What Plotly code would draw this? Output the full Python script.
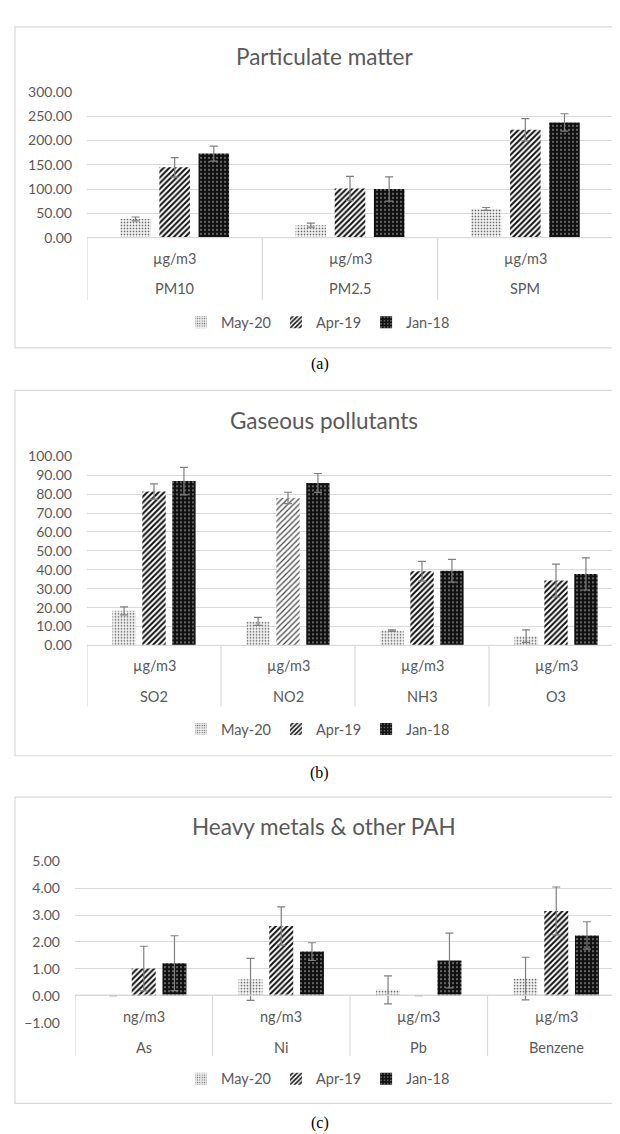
import plotly.graph_objects as go

# ---------------- data ----------------
series = ["May-20", "Apr-19", "Jan-18"]

pm_names = ["PM10", "PM2.5", "SPM"]
pm_units = ["µg/m3", "µg/m3", "µg/m3"]
pm_may20 = [38.5, 25.7, 59.0]
pm_apr19 = [144.6, 101.0, 222.0]
pm_jan18 = [173.0, 100.0, 237.0]
pm_may20_err = [4.0, 4.0, 3.0]
pm_apr19_err = [20.0, 25.0, 23.0]
pm_jan18_err = [15.5, 25.0, 18.0]

gas_names = ["SO2", "NO2", "NH3", "O3"]
gas_units = ["µg/m3", "µg/m3", "µg/m3", "µg/m3"]
gas_may20 = [18.3, 12.7, 7.8, 4.9]
gas_apr19 = [81.4, 78.0, 39.2, 34.3]
gas_jan18 = [86.9, 85.9, 39.5, 37.8]
gas_may20_err = [2.1, 2.1, 0.4, 3.3]
gas_apr19_err = [4.0, 3.0, 5.2, 8.7]
gas_jan18_err = [7.3, 5.0, 6.0, 8.5]

hm_names = ["As", "Ni", "Pb", "Benzene"]
hm_units = ["ng/m3", "ng/m3", "µg/m3", "µg/m3"]
hm_may20 = [0.0, 0.61, 0.22, 0.64]
hm_apr19 = [1.01, 2.59, 0.0, 3.15]
hm_jan18 = [1.21, 1.64, 1.31, 2.24]
hm_may20_err = [0.0, 0.78, 0.52, 0.79]
hm_apr19_err = [0.83, 0.71, 0.0, 0.89]
hm_jan18_err = [1.02, 0.33, 1.02, 0.51]

titles = ["Particulate matter", "Gaseous pollutants", "Heavy metals & other PAH"]
captions = ["(a)", "(b)", "(c)"]

# ---------------- styling ----------------
W, H = 620, 1134
FONT = "Lato"
TXT = "#595959"
GRID = "#d9d9d9"
ERR = "#7f7f7f"


def py(p):  # pixel y -> paper y
    return 1 - p / H


def px(p):
    return p / W


panels = [
    dict(names=pm_names, units=pm_units,
         vals=[pm_may20, pm_apr19, pm_jan18],
         errs=[pm_may20_err, pm_apr19_err, pm_jan18_err],
         xdom=[79, 605], ydom=[224, 76], yrange=[0, 300], dtick=50,
         axis_px=224, div_bottom=287, unit_y=245, name_y=276,
         legend_y=310, title_y=40, caption_y=352, box=[10, 336]),
    dict(names=gas_names, units=gas_units,
         vals=[gas_may20, gas_apr19, gas_jan18],
         errs=[gas_may20_err, gas_apr19_err, gas_jan18_err],
         xdom=[79, 615], ydom=[638, 446], yrange=[0, 100], dtick=10,
         axis_px=638, div_bottom=700, unit_y=658, name_y=690,
         legend_y=723, title_y=410, caption_y=768, box=[379, 750]),
    dict(names=hm_names, units=hm_units,
         vals=[hm_may20, hm_apr19, hm_jan18],
         errs=[hm_may20_err, hm_apr19_err, hm_jan18_err],
         xdom=[67, 617], ydom=[1021, 857], yrange=[-1, 5], dtick=1,
         axis_px=993, div_bottom=1055, unit_y=1015, name_y=1046,
         legend_y=1078, title_y=822, caption_y=1123, box=[792, 1103]),
]


def pattern_for(si, n, panel_idx):
    if si == 0:
        return dict(color="#f4f4f4",
                    pattern=dict(shape=".", size=3, solidity=0.25,
                                 fgcolor="#5a5a5a", bgcolor="#f4f4f4",
                                 fillmode="replace"))
    if si == 1:
        sol = [0.5] * n
        fg = ["#111111"] * n
        if panel_idx == 1:
            sol[1] = 0.3
            fg[1] = "#444444"
        return dict(color="white",
                    pattern=dict(shape="/", size=4, solidity=sol,
                                 fgcolor=fg, bgcolor="white",
                                 fillmode="replace"))
    return dict(color="#111111",
                pattern=dict(shape=".", size=4, solidity=0.08,
                             fgcolor="white", bgcolor="#111111",
                             fillmode="replace"))


fig = go.Figure()
shapes = []
annotations = []
layout = {}

for pi, p in enumerate(panels):
    sfx = "" if pi == 0 else str(pi + 1)
    xa, ya = "x" + sfx, "y" + sfx
    lg = "legend" + sfx
    n = len(p["names"])
    for si, s in enumerate(series):
        fig.add_trace(go.Bar(
            x=p["names"], y=p["vals"][si], name=s,
            xaxis=xa, yaxis=ya, legend=lg,
            marker=dict(line=dict(width=0), **pattern_for(si, n, pi)),
            error_y=dict(type="data", array=p["errs"][si], visible=True,
                         color=ERR, thickness=1.2, width=4),
            hoverinfo="skip",
        ))

    layout["xaxis" + sfx] = dict(
        domain=[px(p["xdom"][0]), px(p["xdom"][1])], anchor=ya,
        type="category", showticklabels=False, showgrid=False,
        ticks="", zeroline=False, showline=False,
        categoryorder="array", categoryarray=p["names"],
        range=[-0.5, n - 0.5], fixedrange=True)
    layout["yaxis" + sfx] = dict(
        domain=[py(p["ydom"][0]), py(p["ydom"][1])], anchor=xa,
        range=p["yrange"], dtick=p["dtick"], tick0=0, tickformat=".2f",
        showgrid=True, gridcolor=GRID, gridwidth=1,
        zeroline=True, zerolinecolor=GRID, zerolinewidth=1,
        ticks="", ticklabelstandoff=14,
        tickfont=dict(family=FONT, size=14, color=TXT), fixedrange=True)
    layout[lg] = dict(
        orientation="h", x=0.5, xanchor="center",
        y=py(p["legend_y"]), yanchor="middle",
        font=dict(family=FONT, size=14.5, color=TXT),
        bgcolor="rgba(0,0,0,0)", itemwidth=30, tracegroupgap=0,
        itemclick=False, itemdoubleclick=False)

    # box frame
    shapes.append(dict(type="rect", xref="paper", yref="paper",
                       x0=px(7), x1=px(640), y0=py(p["box"][1]), y1=py(p["box"][0]),
                       line=dict(color=GRID, width=1.2), fillcolor="rgba(0,0,0,0)",
                       layer="below"))
    # category axis line + dividers
    shapes.append(dict(type="line", xref=xa + " domain", yref="paper",
                       x0=0, x1=1, y0=py(p["axis_px"]), y1=py(p["axis_px"]),
                       line=dict(color=GRID, width=1.2)))
    for k in range(n + 1):
        shapes.append(dict(type="line", xref=xa, yref="paper",
                           x0=k - 0.5, x1=k - 0.5,
                           y0=py(p["axis_px"]), y1=py(p["div_bottom"]),
                           line=dict(color=GRID, width=1.2)))
    # category labels
    for name, unit in zip(p["names"], p["units"]):
        annotations.append(dict(x=name, xref=xa, y=py(p["unit_y"]), yref="paper",
                                text=unit, showarrow=False, yanchor="middle",
                                font=dict(family=FONT, size=14.5, color=TXT)))
        annotations.append(dict(x=name, xref=xa, y=py(p["name_y"]), yref="paper",
                                text=name, showarrow=False, yanchor="middle",
                                font=dict(family=FONT, size=14.5, color=TXT)))
    # title
    annotations.append(dict(x=px(316), xref="paper", y=py(p["title_y"]), yref="paper",
                            text=titles[pi], showarrow=False, yanchor="middle",
                            font=dict(family=FONT, size=22.5, color=TXT)))
    # caption
    annotations.append(dict(x=px(312), xref="paper", y=py(p["caption_y"]), yref="paper",
                            text=captions[pi], showarrow=False, yanchor="middle",
                            font=dict(family="Liberation Serif", size=16, color="black")))

fig.update_layout(
    width=W, height=H, margin=dict(l=0, r=0, t=0, b=0),
    paper_bgcolor="white", plot_bgcolor="white",
    barmode="group", bargap=0.33, bargroupgap=0.22,
    shapes=shapes, annotations=annotations, showlegend=True,
    font=dict(family=FONT, color=TXT),
    **layout,
)

fig.write_html("out.html", config=dict(displayModeBar=False))
